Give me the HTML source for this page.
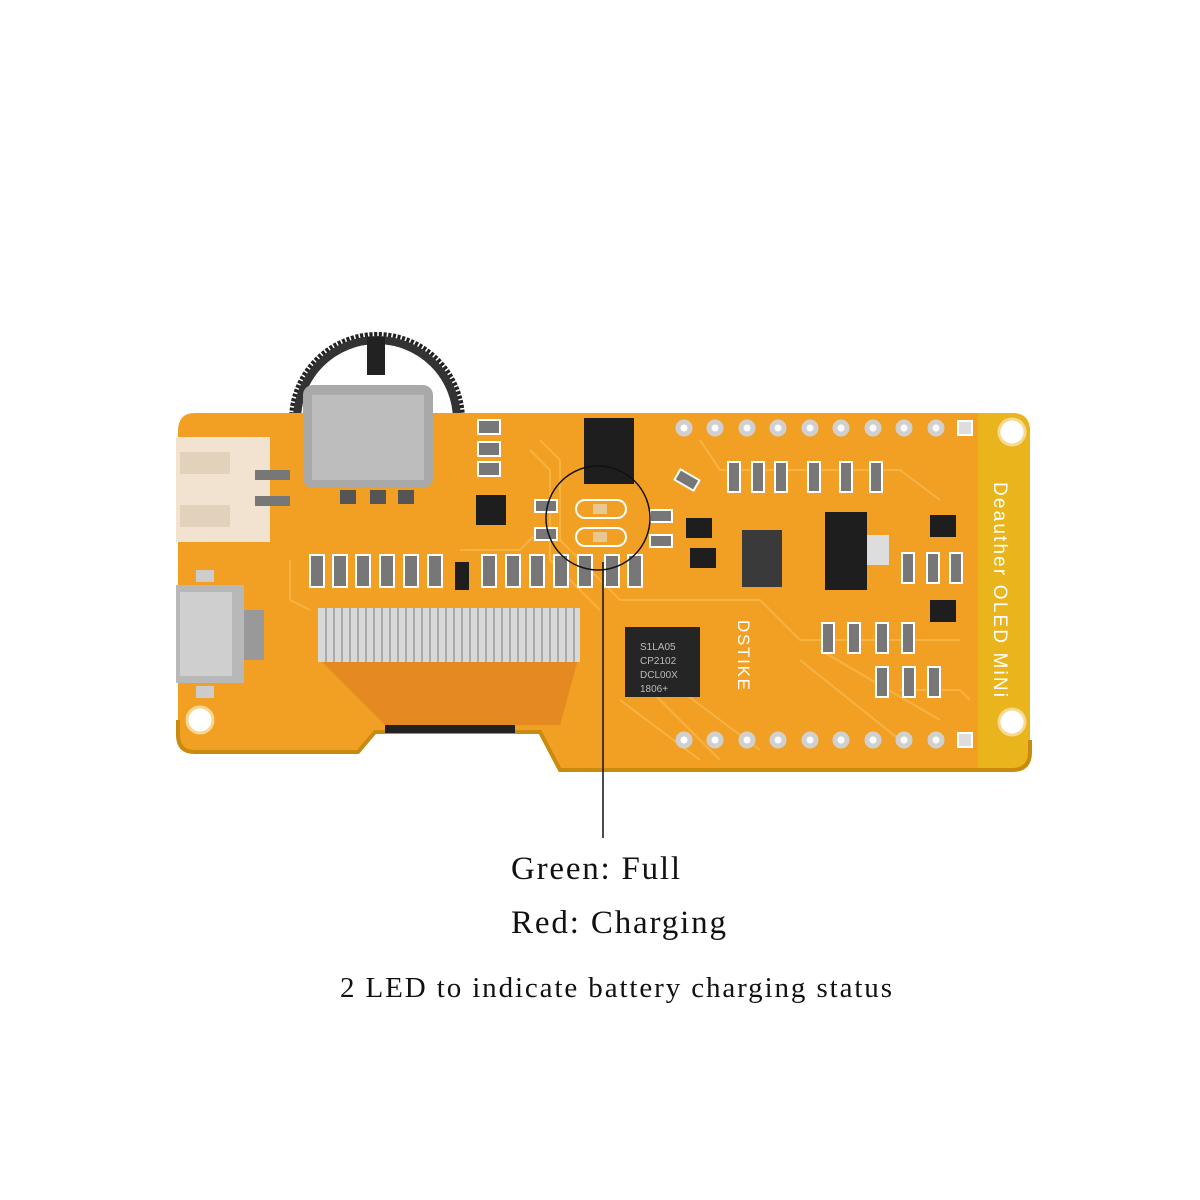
<!DOCTYPE html>
<html><head><style>html,body{margin:0;padding:0;background:#fff}svg{display:block}</style></head>
<body>
<svg width="1200" height="1200" viewBox="0 0 1200 1200" xmlns="http://www.w3.org/2000/svg" font-family="Liberation Serif, serif">
<rect width="1200" height="1200" fill="#fff"/>
<path d="M295,420 A82,82 0 0 1 459,420" fill="none" stroke="#222" stroke-width="12" stroke-dasharray="3 1.5"/>
<path d="M297,420 A80,80 0 0 1 457,420" fill="none" stroke="#333" stroke-width="8"/>
<rect x="367" y="337" width="18" height="38" fill="#222"/>
<path d="M195,413 L1012,413 Q1030,413 1030,431 L1030,752 Q1030,770 1012,770 L560,770 L540,732 L375,732 L358,752 L195,752 Q178,752 178,735 L178,431 Q178,413 195,413 Z" fill="#f2a024"/>
<path d="M978,413 L1012,413 Q1030,413 1030,431 L1030,752 Q1030,770 1012,770 L978,770 Z" fill="#e9b41c"/>
<path d="M178,720 L178,735 Q178,752 195,752 L358,752 L375,732 L540,732 L560,770 L1012,770 Q1030,770 1030,752 L1030,740" fill="none" stroke="#c98a10" stroke-width="4"/>
<g fill="none" stroke="#f8b84a" stroke-width="2" opacity="0.8">
<path d="M540,440 L560,460 L560,540 L620,600 L760,600 L800,640 L960,640"/>
<path d="M530,450 L550,470 L550,560 L600,610"/>
<path d="M620,700 L700,760 M650,690 L720,760 M680,690 L760,750 M800,660 L900,740 M820,650 L940,720"/>
<path d="M290,560 L290,600 L310,610 M460,550 L520,550 L540,530"/>
<path d="M700,440 L720,470 L900,470 L940,500 M900,690 L960,690 L970,700"/>
</g>
<circle cx="1012" cy="432" r="13" fill="#fff" stroke="#f6d890" stroke-width="3"/>
<circle cx="1012" cy="722" r="13" fill="#fff" stroke="#f6d890" stroke-width="3"/>
<circle cx="200" cy="720" r="13" fill="#fff" stroke="#f6d890" stroke-width="3"/>
<g fill="#fff" stroke="#d0d0d0" stroke-width="5">
<circle cx="684" cy="428" r="6"/><circle cx="715" cy="428" r="6"/><circle cx="747" cy="428" r="6"/><circle cx="778" cy="428" r="6"/><circle cx="810" cy="428" r="6"/><circle cx="841" cy="428" r="6"/><circle cx="873" cy="428" r="6"/><circle cx="904" cy="428" r="6"/><circle cx="936" cy="428" r="6"/>
<circle cx="684" cy="740" r="6"/><circle cx="715" cy="740" r="6"/><circle cx="747" cy="740" r="6"/><circle cx="778" cy="740" r="6"/><circle cx="810" cy="740" r="6"/><circle cx="841" cy="740" r="6"/><circle cx="873" cy="740" r="6"/><circle cx="904" cy="740" r="6"/><circle cx="936" cy="740" r="6"/>
</g>
<rect x="958" y="421" width="14" height="14" fill="#ddd" stroke="#fff" stroke-width="2"/>
<rect x="958" y="733" width="14" height="14" fill="#ddd" stroke="#fff" stroke-width="2"/>
<rect x="176" y="437" width="94" height="105" fill="#f1e3cf"/>
<rect x="180" y="452" width="50" height="22" fill="#e3d2bb"/>
<rect x="180" y="505" width="50" height="22" fill="#e3d2bb"/>
<rect x="255" y="470" width="35" height="10" fill="#777"/><rect x="255" y="496" width="35" height="10" fill="#777"/>
<rect x="303" y="385" width="130" height="103" rx="10" fill="#a9a9a9"/>
<rect x="312" y="395" width="112" height="85" fill="#bdbdbd"/>
<rect x="340" y="490" width="16" height="14" fill="#555"/><rect x="370" y="490" width="16" height="14" fill="#555"/><rect x="398" y="490" width="16" height="14" fill="#555"/>
<rect x="176" y="585" width="68" height="98" fill="#b8b8b8"/>
<rect x="180" y="592" width="52" height="84" fill="#cfcfcf"/>
<rect x="244" y="610" width="20" height="50" fill="#999"/>
<rect x="196" y="570" width="18" height="12" fill="#ccc"/><rect x="196" y="686" width="18" height="12" fill="#ccc"/>
<path d="M320,660 L578,660 L560,725 L385,725 Z" fill="#e48a20"/>
<rect x="318" y="608" width="262" height="54" fill="#d8d8d8"/>
<g stroke="#9a9a9a" stroke-width="1.5">
<path d="M326,608V662M334,608V662M342,608V662M350,608V662M358,608V662M366,608V662M374,608V662M382,608V662M390,608V662M398,608V662M406,608V662M414,608V662M422,608V662M430,608V662M438,608V662M446,608V662M454,608V662M462,608V662M470,608V662M478,608V662M486,608V662M494,608V662M502,608V662M510,608V662M518,608V662M526,608V662M534,608V662M542,608V662M550,608V662M558,608V662M566,608V662M574,608V662"/>
</g>
<rect x="385" y="725" width="130" height="8" fill="#222"/>
<g fill="#777" stroke="#fff" stroke-width="2">
<rect x="310" y="555" width="14" height="32"/><rect x="333" y="555" width="14" height="32"/><rect x="356" y="555" width="14" height="32"/><rect x="380" y="555" width="14" height="32"/><rect x="404" y="555" width="14" height="32"/><rect x="428" y="555" width="14" height="32"/>
<rect x="482" y="555" width="14" height="32"/><rect x="506" y="555" width="14" height="32"/><rect x="530" y="555" width="14" height="32"/><rect x="554" y="555" width="14" height="32"/><rect x="578" y="555" width="14" height="32"/><rect x="605" y="555" width="14" height="32"/><rect x="628" y="555" width="14" height="32"/>
<rect x="478" y="420" width="22" height="14"/><rect x="478" y="442" width="22" height="14"/><rect x="478" y="462" width="22" height="14"/>
<rect x="728" y="462" width="12" height="30"/><rect x="752" y="462" width="12" height="30"/><rect x="775" y="462" width="12" height="30"/><rect x="808" y="462" width="12" height="30"/><rect x="840" y="462" width="12" height="30"/><rect x="870" y="462" width="12" height="30"/>
<rect x="902" y="553" width="12" height="30"/><rect x="927" y="553" width="12" height="30"/><rect x="950" y="553" width="12" height="30"/>
<rect x="822" y="623" width="12" height="30"/><rect x="848" y="623" width="12" height="30"/><rect x="876" y="623" width="12" height="30"/><rect x="902" y="623" width="12" height="30"/>
<rect x="876" y="667" width="12" height="30"/><rect x="903" y="667" width="12" height="30"/><rect x="928" y="667" width="12" height="30"/>
<rect x="535" y="500" width="22" height="12"/><rect x="535" y="528" width="22" height="12"/><rect x="650" y="510" width="22" height="12"/><rect x="650" y="535" width="22" height="12"/>
<rect x="676" y="474" width="22" height="12" transform="rotate(30 687 480)"/>
</g>
<rect x="576" y="500" width="50" height="18" rx="9" fill="none" stroke="#fff" stroke-width="2"/>
<rect x="576" y="528" width="50" height="18" rx="9" fill="none" stroke="#fff" stroke-width="2"/>
<rect x="593" y="504" width="14" height="10" fill="#e8c890"/><rect x="593" y="532" width="14" height="10" fill="#e8c890"/>
<rect x="584" y="418" width="50" height="66" fill="#1e1e1e"/>
<rect x="476" y="495" width="30" height="30" fill="#1e1e1e"/>
<rect x="455" y="562" width="14" height="28" fill="#1e1e1e"/>
<rect x="686" y="518" width="26" height="20" fill="#1e1e1e"/><rect x="690" y="548" width="26" height="20" fill="#1e1e1e"/>
<rect x="625" y="627" width="75" height="70" fill="#252525"/>
<g fill="#bbb" font-family="Liberation Sans, sans-serif" font-size="10"><text x="640" y="650">S1LA05</text><text x="640" y="664">CP2102</text><text x="640" y="678">DCL00X</text><text x="640" y="692">1806+</text></g>
<rect x="825" y="512" width="42" height="78" fill="#1e1e1e"/>
<rect x="867" y="535" width="22" height="30" fill="#ddd"/>
<rect x="742" y="530" width="40" height="57" fill="#3a3a3a"/>
<rect x="930" y="515" width="26" height="22" fill="#1e1e1e"/><rect x="930" y="600" width="26" height="22" fill="#1e1e1e"/>
<text transform="translate(994,482) rotate(90)" font-family="Liberation Sans, sans-serif" font-size="19" fill="#fff" textLength="215">Deauther OLED MiNi</text>
<text transform="translate(738,620) rotate(90)" font-family="Liberation Sans, sans-serif" font-size="17" fill="#fff" textLength="70">DSTIKE</text>
<circle cx="598" cy="518" r="52" fill="none" stroke="#111" stroke-width="1.5"/>
<line x1="603" y1="562" x2="603" y2="838" stroke="#111" stroke-width="1.5"/>
<text x="511" y="879" font-size="33" fill="#111" textLength="169">Green: Full</text>
<text x="511" y="933" font-size="33" fill="#111" textLength="215">Red: Charging</text>
<text x="340" y="997" font-size="29" fill="#111" textLength="552">2 LED to indicate battery charging status</text>
</svg>
</body></html>
